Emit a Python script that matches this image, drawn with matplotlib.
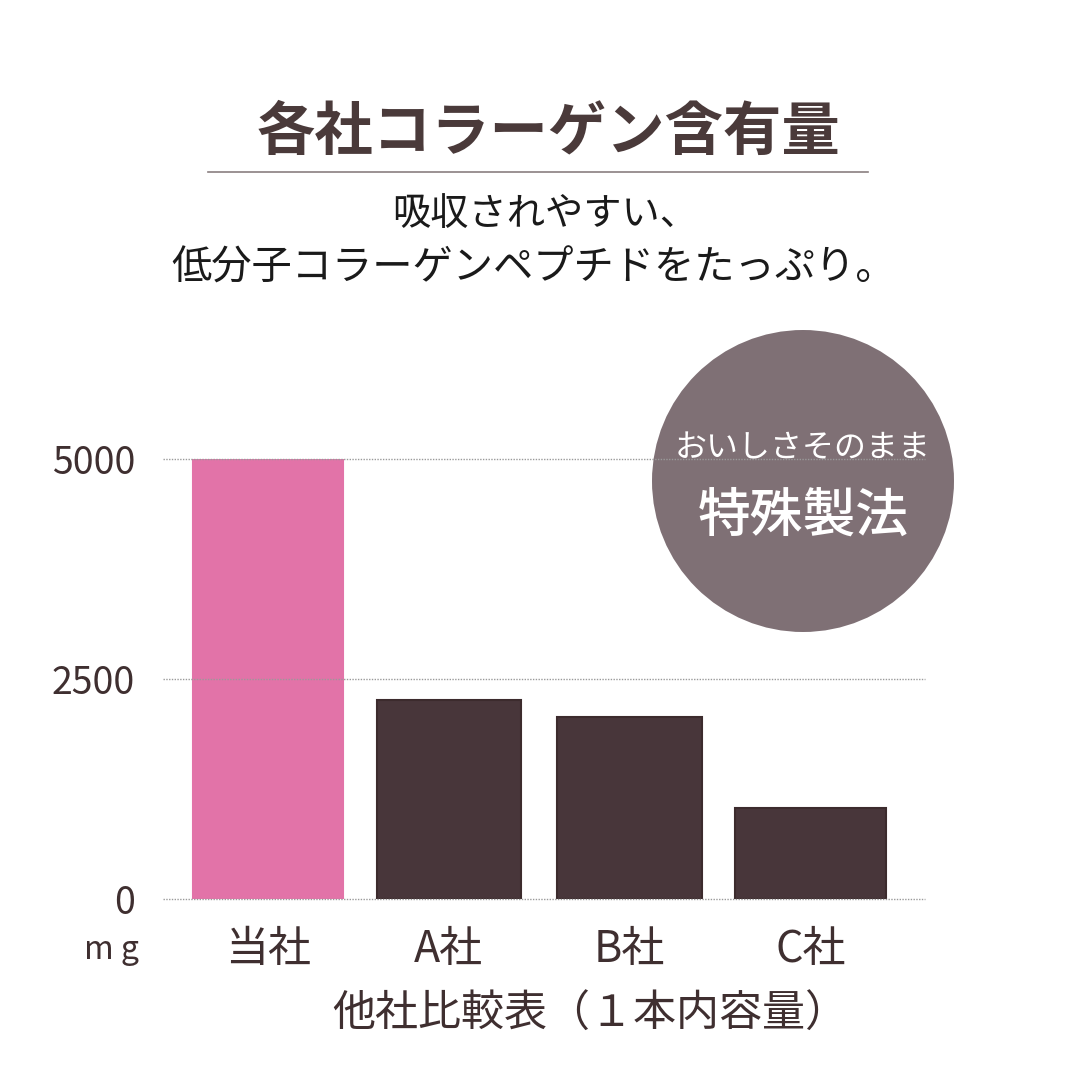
import matplotlib
matplotlib.use("Agg")
import matplotlib.pyplot as plt
from matplotlib.patches import Ellipse

plt.rcParams['font.family'] = ['Noto Sans CJK JP', 'DejaVu Sans']

companies = ['当社', 'A社', 'B社', 'C社']
collagen_mg = [5000, 2260, 2070, 1030]
yticks = [0, 2500, 5000]
ytick_labels = ['0', '2500', '5000']

bar_colors = ['#E273A8', '#48363A', '#48363A', '#48363A']
edge_colors = ['#E273A8', '#3C2B2D', '#3C2B2D', '#3C2B2D']
bar_widths = [0.83, 0.80, 0.80, 0.84]
txt = '#3F2F30'

W = H = 1080
fig = plt.figure(figsize=(10.8, 10.8), dpi=100)
fig.patch.set_facecolor('white')


def fx(px):
    return px / W


def fy(py):
    return 1 - py / H


ax = fig.add_axes([fx(163), fy(899), fx(925) - fx(163), fy(459) - fy(899)])
x = list(range(len(companies)))
ax.bar(x, collagen_mg, width=bar_widths, color=bar_colors,
       edgecolor=edge_colors, linewidth=1.5, zorder=2)
ax.set_xlim(-0.581, 3.633)
ax.set_ylim(0, 5000)
for v in yticks:
    ax.axhline(v, color='#9a9a9a', linestyle=(0, (1, 1)), linewidth=1,
               zorder=6, clip_on=False)
ax.set_yticks(yticks)
ax.set_yticklabels(ytick_labels, fontsize=27, color=txt)
ax.set_xticks(x)
ax.set_xticklabels(companies, fontsize=31, color=txt)
ax.tick_params(axis='y', length=0, pad=20)
ax.tick_params(axis='x', length=0, pad=21)
for s in ax.spines.values():
    s.set_visible(False)

# circle badge
circ = Ellipse((fx(803), fy(481)), 302 / W, 302 / H, transform=fig.transFigure,
               facecolor='#7F7075', edgecolor='none', zorder=4, clip_on=False)
ax.add_patch(circ)
fig.text(fx(803), fy(448), 'おいしさそのまま', fontsize=23, color='white',
         ha='center', va='center', zorder=10)
fig.text(fx(803), fy(517), '特殊製法', fontsize=38, fontweight='medium',
         color='white', ha='center', va='center', zorder=10)

# title and subtitle
fig.text(fx(548), fy(133), '各社コラーゲン含有量', fontsize=42, fontweight='bold',
         color='#4A3A3A', ha='center', va='center')
fig.add_artist(plt.Line2D([fx(208), fx(868)], [fy(172), fy(172)],
                          color='#8a7f80', linewidth=1.2))
fig.text(fx(545), fy(215), '吸収されやすい、', fontsize=27.5, color='#1a1a1a',
         ha='center', va='center')
fig.text(fx(534), fy(268), '低分子コラーゲンペプチドをたっぷり。', fontsize=29,
         color='#1a1a1a', ha='center', va='center')

fig.text(fx(112), fy(950), 'm g', fontsize=23, color=txt, ha='center', va='center')
fig.text(fx(590), fy(1015), '他社比較表（１本内容量）', fontsize=31, color=txt,
         ha='center', va='center')

fig.savefig('out.png', dpi=100, facecolor='white')
